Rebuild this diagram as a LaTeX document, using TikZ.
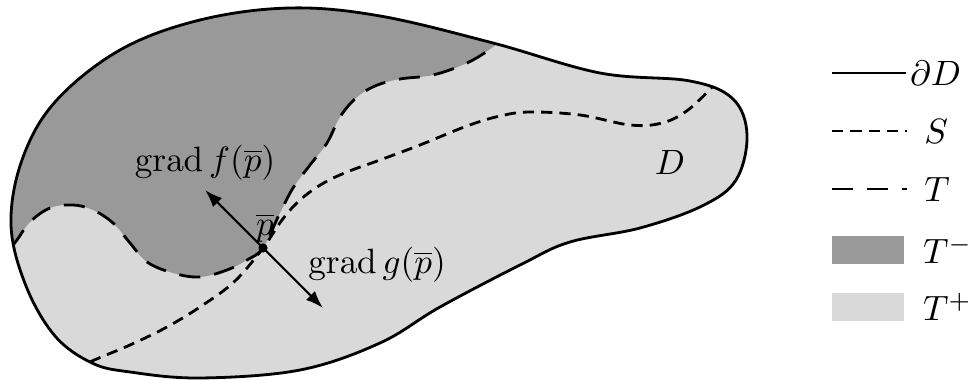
\documentclass[tikz,border=0pt]{standalone}
\usepackage{amsmath, amssymb}
\usepackage{tikz}
\usetikzlibrary{arrows.meta, positioning, calc}

\begin{document}
\begin{tikzpicture}[x=0.01cm, y=-0.01cm,
    bnd/.style={thick},
    sline/.style={thick, dash pattern=on 3.2pt off 2pt},
    tline/.style={thick, dash pattern=on 6pt off 4pt},
    gradarrow/.style={semithick, -{Latex[length=5pt, width=3.6pt]}},
    tminus/.style={fill=black!40},
    tplus/.style={fill=black!15},
    legbox/.style={minimum width=0.72cm, minimum height=0.27cm, inner sep=0pt}]
    \useasboundingbox (0,0) rectangle (968,380);

    \def\domain{plot[smooth cycle, tension=0.6] coordinates {
        (11,225) (22,160) (55,102) (120,50) (200,20) (290,8) (380,16) (493,43)
        (600,73) (690,81) (733,99) (747,135) (736,180) (702,206) (640,228)
        (570,242) (522,264) (440,307) (380,343) (300,370) (200,378) (130,372)
        (92,363) (55,336) (26,286)}}
    \def\tcurve{plot[smooth, tension=0.6] coordinates {
        (512,30) (493,47) (467,63) (433,75) (400,79) (375,86) (356,98) (340,117)
        (327,143) (310,165) (293,188) (279,215) (263,248) (247,260) (227,270)
        (200,277) (173,273) (147,262) (130,243) (113,223) (93,210) (73,205)
        (50,208) (30,222) (17,240) (5,255)}}

    \fill[tplus] \domain;
    \begin{scope}
        \clip \domain;
        \fill[tminus] \tcurve -- (-20,260) -- (-20,-20) -- (540,-20) -- cycle;
        \draw[tline] \tcurve;
        \draw[sline] plot[smooth, tension=0.6] coordinates {
            (75,372) (90,362) (130,345) (167,327) (203,305) (235,281) (263,248)
            (282,220) (300,200) (322,184) (347,172) (380,160) (420,145) (467,126)
            (500,116) (530,112) (580,115) (630,125) (662,123) (688,110) (715,84)
            (722,74)};
    \end{scope}
    \draw[bnd] \domain;

    \coordinate (pbar) at (263,248);
    \coordinate (gf) at (205,190);
    \coordinate (gg) at (323,308);
    \draw[gradarrow] (pbar) -- (gf);
    \draw[gradarrow] (pbar) -- (gg);
    \fill (pbar) circle (1.3pt);
    \node (pbarlbl) at (265,228) {$\overline{p}$};
    \node (gradf) at (205,163) {$\operatorname{grad} f(\overline{p})$};
    \node (gradg) at (377,265) {$\operatorname{grad} g(\overline{p})$};
    \node (dlbl) at (670,162) {$D$};

    % legend
    \coordinate (ba) at (832,73);
    \coordinate (bb) at (906,73);
    \coordinate (sa) at (832,131);
    \coordinate (sb) at (907,131);
    \coordinate (ta) at (832,189);
    \coordinate (tb) at (907,189);
    \draw[bnd] (ba) -- (bb);
    \draw[sline] (sa) -- (sb);
    \draw[tline] (ta) -- (tb);
    \node[anchor=west, inner sep=1pt] (lbnd) at (bb) {$\partial D$};
    \node[anchor=west] (ls) at (912,131) {$S$};
    \node[anchor=west] (lt) at (912,189) {$T$};
    \node[tminus, legbox] (bminus) at (868,250) {};
    \node[tplus, legbox] (bplus) at (868,307) {};
    \node[right=0.06cm of bminus] (lminus) {$T^-$};
    \node[right=0.06cm of bplus] (lplus) {$T^+$};
\end{tikzpicture}
\end{document}
